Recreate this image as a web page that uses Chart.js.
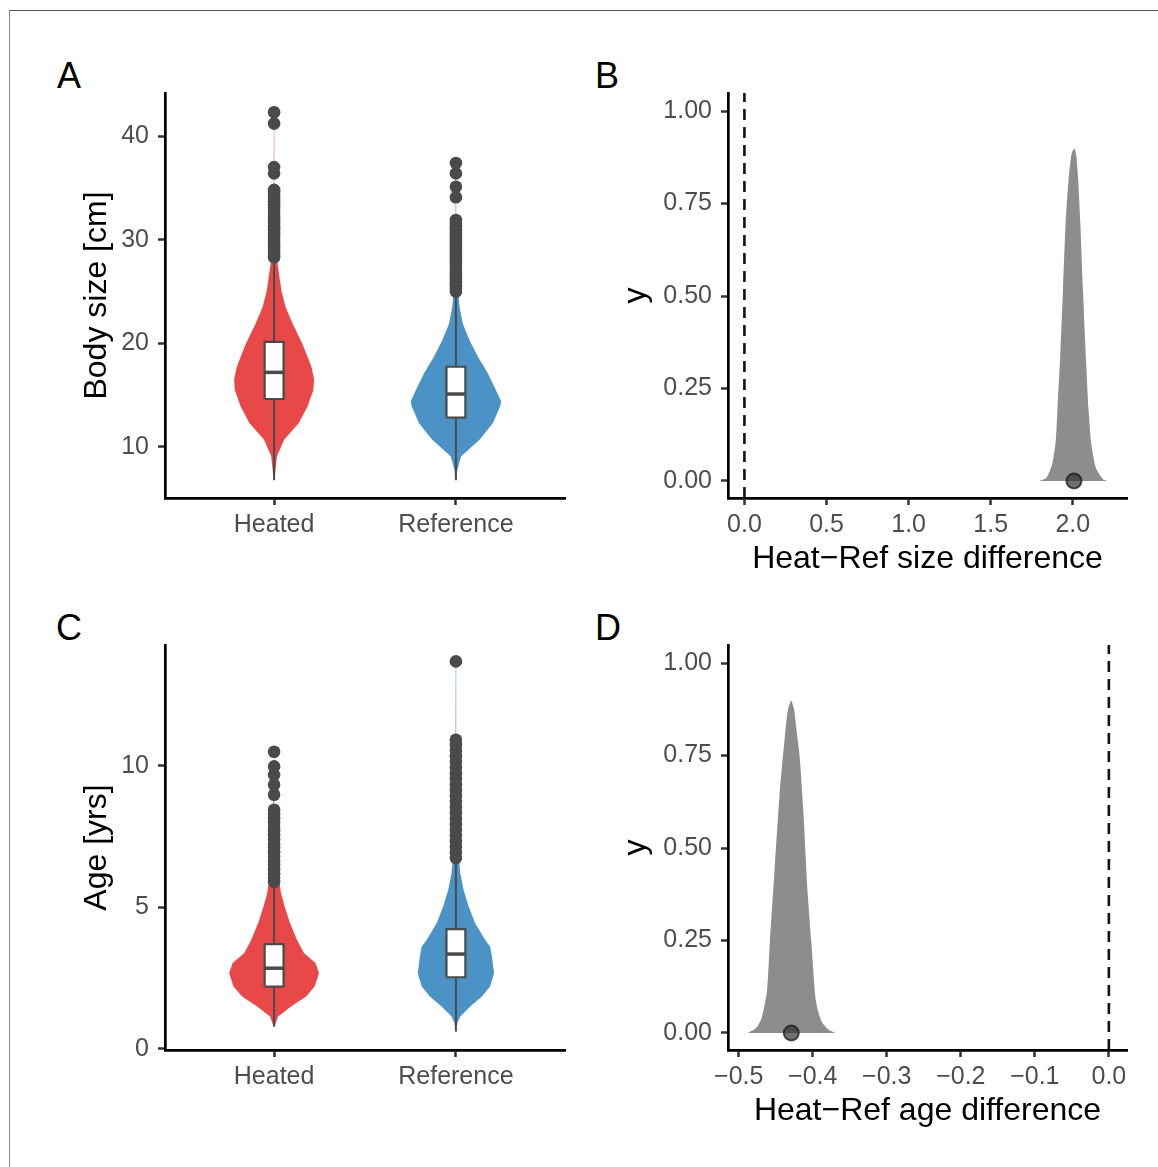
<!DOCTYPE html>
<html>
<head>
<meta charset="utf-8">
<script src="https://cdn.jsdelivr.net/npm/chart.js@4.4.1/dist/chart.umd.min.js"></script>
<style>
  body { margin: 0; background: #fff; width: 1158px; height: 1167px; position: relative; overflow: hidden; }
  .frame { position: absolute; left: 9px; top: 10px; width: 1200px; height: 1200px; border-top: 1px solid #555; border-left: 1px solid #888; }
  canvas { position: absolute; }
  .tag { position: absolute; font-family: "Liberation Sans", Arial, sans-serif; font-size: 36px; line-height: 36px; color: #000; }
</style>
</head>
<body>
<div class="frame"></div>
<div class="tag" style="left:57px; top:58px">A</div>
<div class="tag" style="left:595px; top:58px">B</div>
<div class="tag" style="left:56px; top:610px">C</div>
<div class="tag" style="left:595px; top:610px">D</div>
<canvas id="panelA" width="570" height="540" style="left:20px; top:60px"></canvas>
<canvas id="panelB" width="560" height="540" style="left:590px; top:60px"></canvas>
<canvas id="panelC" width="570" height="540" style="left:20px; top:612px"></canvas>
<canvas id="panelD" width="560" height="540" style="left:590px; top:612px"></canvas>
<script>
// ---- data ----
const groups = ['Heated', 'Reference']

// body size violins: y values and half widths (in category units)
const sizeHeatedY = [6.8, 7.8, 9.1, 10.7, 12.3, 13.9, 15.5, 16.5, 17.7, 18.7, 20.0, 21.9, 23.5, 25.1, 27.7, 30.0, 34.0, 38.0, 42.3]
const sizeHeatedW = [0.002, 0.008, 0.016, 0.055, 0.135, 0.184, 0.216, 0.220, 0.206, 0.184, 0.154, 0.102, 0.063, 0.040, 0.019, 0.006, 0.002, 0.001, 0.001]
const sizeRefY = [6.8, 7.8, 9.1, 10.7, 12.3, 13.9, 14.4, 15.5, 17.1, 18.7, 20.3, 21.9, 23.5, 24.5, 27.0, 31.0, 37.3]
const sizeRefW = [0.002, 0.008, 0.029, 0.130, 0.203, 0.243, 0.249, 0.220, 0.176, 0.121, 0.075, 0.038, 0.020, 0.015, 0.006, 0.002, 0.001]
// boxplot stats: lower whisker, q1, median, q3, upper whisker
const sizeHeatedBox = [6.8, 14.63, 17.2, 20.15, 28.2]
const sizeRefBox = [6.8, 12.83, 15.11, 17.74, 24.9]
const sizeHeatedOut = [28.3, 28.6, 28.9, 29.2, 29.5, 29.8, 30.1, 30.4, 30.7, 31.0, 31.3, 31.6, 31.9, 32.2, 32.5, 32.8, 33.1, 33.4, 33.7, 34.0, 34.3, 34.6, 34.8, 36.4, 37.0, 41.2, 42.3]
const sizeRefOut = [25.0, 25.3, 25.6, 25.9, 26.2, 26.5, 26.8, 27.1, 27.4, 27.7, 28.0, 28.3, 28.6, 28.9, 29.2, 29.5, 29.8, 30.1, 30.4, 30.7, 31.0, 31.3, 31.6, 31.9, 34.1, 35.1, 36.4, 37.4]

// age violins
const ageHeatedY = [0.79, 1.14, 1.50, 1.85, 2.20, 2.67, 3.03, 3.38, 3.85, 4.44, 5.03, 5.50, 6.5, 8.0, 10.5]
const ageHeatedW = [0.003, 0.022, 0.093, 0.176, 0.223, 0.247, 0.228, 0.165, 0.126, 0.088, 0.058, 0.038, 0.016, 0.005, 0.001]
const ageRefY = [0.61, 0.91, 1.14, 1.50, 1.85, 2.20, 2.67, 3.26, 3.62, 3.85, 4.44, 5.03, 5.62, 6.21, 6.56, 8.5, 11.0, 13.69]
const ageRefW = [0.002, 0.008, 0.024, 0.079, 0.143, 0.188, 0.210, 0.198, 0.188, 0.161, 0.106, 0.070, 0.042, 0.024, 0.019, 0.006, 0.002, 0.001]
const ageHeatedBox = [0.79, 2.20, 2.85, 3.70, 5.8]
const ageRefBox = [0.61, 2.53, 3.35, 4.23, 6.6]
const ageHeatedOut = [5.9, 6.05, 6.2, 6.35, 6.5, 6.65, 6.8, 6.95, 7.1, 7.25, 7.4, 7.55, 7.7, 7.85, 8.0, 8.15, 8.3, 8.45, 8.98, 9.33, 9.68, 9.98, 10.5]
const ageRefOut = [6.74, 6.94, 7.14, 7.34, 7.54, 7.74, 7.94, 8.14, 8.34, 8.54, 8.74, 8.94, 9.14, 9.34, 9.54, 9.74, 9.94, 10.14, 10.34, 10.54, 10.74, 10.92, 13.69]

// posterior densities of the differences
const diffSizeX = [1.796, 1.84, 1.874, 1.896, 1.907, 1.923, 1.940, 1.956, 1.973, 1.986, 1.996, 2.011, 2.022, 2.034, 2.046, 2.062, 2.080, 2.095, 2.113, 2.140, 2.184, 2.212]
const diffSizeY = [0, 0.009, 0.045, 0.108, 0.199, 0.334, 0.515, 0.696, 0.810, 0.865, 0.890, 0.899, 0.878, 0.805, 0.696, 0.515, 0.334, 0.199, 0.099, 0.036, 0.005, 0]
const diffSizeMean = 2.007
const diffAgeX = [-0.4878, -0.4765, -0.4691, -0.4618, -0.4579, -0.452, -0.4447, -0.4373, -0.4335, -0.429, -0.4250, -0.4226, -0.4177, -0.4128, -0.407, -0.402, -0.3957, -0.3883, -0.3786, -0.3688]
const diffAgeY = [0, 0.0135, 0.04, 0.113, 0.248, 0.428, 0.649, 0.810, 0.875, 0.898, 0.872, 0.829, 0.748, 0.604, 0.383, 0.248, 0.086, 0.032, 0.009, 0]
const diffAgeMean = -0.429

// tick labels
const sizeTicks = [10, 20, 30, 40]
const sizeTickLabels = ['10', '20', '30', '40']
const ageTicks = [0, 5, 10]
const ageTickLabels = ['0', '5', '10']
const densTicks = [0, 0.25, 0.5, 0.75, 1]
const densTickLabels = ['0.00', '0.25', '0.50', '0.75', '1.00']
const diffSizeTicks = [0, 0.5, 1, 1.5, 2]
const diffSizeTickLabels = ['0.0', '0.5', '1.0', '1.5', '2.0']
const diffAgeTicks = [-0.5, -0.4, -0.3, -0.2, -0.1, 0]
const diffAgeTickLabels = ['\u22120.5', '\u22120.4', '\u22120.3', '\u22120.2', '\u22120.1', '0.0']

// ---- styling ----
const FONT = '"Liberation Sans", Arial, sans-serif'
const RED = 'rgba(228, 26, 28, 0.8)'
const BLUE = 'rgba(30, 120, 185, 0.8)'
const DARK = '#4a4a4a'
const BOX_HALF = 0.052

function violin(center, ys, ws, color){
    const right = ys.map((y, i) => ({x: center + ws[i], y: y}))
    const left = ys.map((y, i) => ({x: center - ws[i], y: y})).reverse()
    return {data: right.concat(left), showLine: true, fill: 'shape', backgroundColor: color,
        borderWidth: 0, pointRadius: 0, order: 5}
}

function boxplot(center, stats, outliers){
    const [lo, q1, med, q3, hi] = stats
    return [
        {data: [{x: center, y: lo}, {x: center, y: hi}], showLine: true, borderColor: DARK,
            borderWidth: 2, pointRadius: 0, order: 4},
        {data: [{x: center - BOX_HALF, y: q1}, {x: center + BOX_HALF, y: q1}, {x: center + BOX_HALF, y: q3},
                {x: center - BOX_HALF, y: q3}, {x: center - BOX_HALF, y: q1}],
            showLine: true, fill: 'shape', backgroundColor: '#fff', borderColor: DARK, borderWidth: 2.2,
            pointRadius: 0, order: 3},
        {data: [{x: center - BOX_HALF, y: med}, {x: center + BOX_HALF, y: med}], showLine: true,
            borderColor: DARK, borderWidth: 3.5, pointRadius: 0, order: 2},
        {data: outliers.map(v => ({x: center, y: v})), showLine: false, pointRadius: 6.3,
            pointBackgroundColor: DARK, pointBorderWidth: 0, order: 1}
    ]
}

function density(xs, ys, mean){
    return [
        {data: xs.map((x, i) => ({x: x, y: ys[i]})), showLine: true, fill: 'origin', tension: 0.2,
            backgroundColor: 'rgb(141, 141, 141)', borderWidth: 0, pointRadius: 0, order: 3},
        {data: [{x: mean, y: 0}], showLine: false, pointRadius: 7.5, pointBackgroundColor: 'rgba(50, 50, 50, 0.7)',
            pointBorderColor: 'rgba(25, 25, 25, 0.75)', pointBorderWidth: 2, order: 1},
        {data: [{x: 0, y: -0.046}, {x: 0, y: 1.049}], showLine: true, borderColor: '#111',
            borderWidth: 2.6, borderDash: [11, 7], pointRadius: 0, order: 2}
    ]
}

function axis(min, max, ticks, labels, size, vertical, title, titlePad){
    const opt = {
        type: 'linear', min: min, max: max,
        afterBuildTicks: s => { s.ticks = ticks.map(v => ({value: v})) },
        afterFit: s => { if(vertical) s.width = size; else s.height = size },
        ticks: {callback: (v, i) => labels[i], autoSkip: false, maxRotation: 0,
            font: {family: FONT, size: 25}, color: '#4d4d4d', padding: vertical ? 9 : 5},
        grid: {drawOnChartArea: false, drawTicks: true, tickLength: 7, tickColor: '#333', tickWidth: 2.5},
        border: {display: true, color: '#000', width: 2.7},
        title: {display: !!title, text: title || '', color: '#000', font: {family: FONT, size: 32},
            padding: vertical ? {top: titlePad, bottom: 0} : {top: 0, bottom: titlePad}}
    }
    return opt
}

function makeChart(id, datasets, xScale, yScale, padRight){
    return new Chart(document.getElementById(id), {
        type: 'scatter',
        data: {datasets: datasets},
        options: {
            responsive: false, animation: false, events: [],
            layout: {padding: {top: 33, right: padRight, left: 0, bottom: 0}},
            plugins: {legend: {display: false}, tooltip: {enabled: false}},
            scales: {x: xScale, y: yScale}
        }
    })
}

makeChart('panelA',
    [violin(1, sizeHeatedY, sizeHeatedW, RED), violin(2, sizeRefY, sizeRefW, BLUE),
     ...boxplot(1, sizeHeatedBox, sizeHeatedOut), ...boxplot(2, sizeRefBox, sizeRefOut)],
    axis(0.4, 2.6, [1, 2], groups, 102, false),
    axis(5.08, 44.15, sizeTicks, sizeTickLabels, 145, true, 'Body size [cm]', 58), 25)

makeChart('panelB', density(diffSizeX, diffSizeY, diffSizeMean),
    axis(-0.1, 2.33, diffSizeTicks, diffSizeTickLabels, 102, false, 'Heat\u2212Ref size difference', 22),
    axis(-0.046, 1.049, densTicks, densTickLabels, 138, true, 'y', 27), 23)

makeChart('panelC',
    [violin(1, ageHeatedY, ageHeatedW, RED), violin(2, ageRefY, ageRefW, BLUE),
     ...boxplot(1, ageHeatedBox, ageHeatedOut), ...boxplot(2, ageRefBox, ageRefOut)],
    axis(0.4, 2.6, [1, 2], groups, 102, false),
    axis(-0.04, 14.27, ageTicks, ageTickLabels, 145, true, 'Age [yrs]', 58), 25)

makeChart('panelD', density(diffAgeX, diffAgeY, diffAgeMean),
    axis(-0.5145, 0.0245, diffAgeTicks, diffAgeTickLabels, 102, false, 'Heat\u2212Ref age difference', 22),
    axis(-0.046, 1.049, densTicks, densTickLabels, 138, true, 'y', 27), 23)
</script>
</body>
</html>
